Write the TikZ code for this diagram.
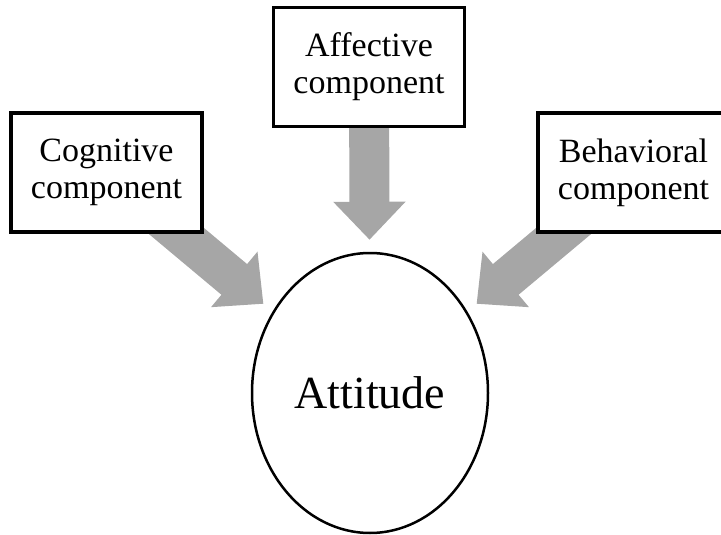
\documentclass[tikz,border=0pt]{standalone}
\usepackage{fontspec}
\setmainfont{Liberation Serif}
\usetikzlibrary{shapes.geometric,arrows.meta,backgrounds}
\definecolor{arrowgray}{RGB}{166,166,166}
\tikzset{
  compbox/.style={draw, line width=3.5pt, fill=white, minimum width=191pt, minimum height=119pt,
    align=center, inner sep=0pt, font=\fontsize{34}{37}\selectfont},
  bigarrow/.style={draw=arrowgray, line width=40pt, -{Triangle[width=70pt,length=38pt]}, shorten >=12pt}
}

\begin{document}
\begin{tikzpicture}[x=1pt,y=-1pt]
            \useasboundingbox (0,0) rectangle (721,535);
            %绘制三个成分方框
            \node[compbox] (C) at (106.5,172.5) {Cognitive\\component};
            \node[compbox] (A) at (369,67) {Affective\\component};
            \node[compbox] (B) at (633.5,172.5) {Behavioral\\component};
            %绘制中间的椭圆
            \node[ellipse, draw, line width=2.5pt, minimum width=236pt, minimum height=280pt,
              font=\fontsize{46}{50}\selectfont] (T) at (370,393) {Attitude};
            %绘制指向椭圆的灰色箭头
            \begin{scope}[on background layer]
            \foreach \s in {C,A,B}{\draw[bigarrow] (\s.center) -- (T);}
            \end{scope}
        \end{tikzpicture}
\end{document}
